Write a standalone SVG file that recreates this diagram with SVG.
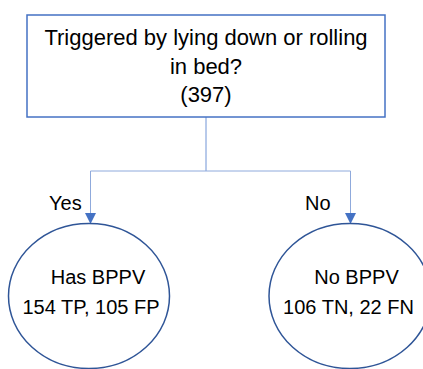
<svg xmlns="http://www.w3.org/2000/svg" width="423" height="369" viewBox="0 0 423 369">
  <style>
    .t { font-family: "Liberation Sans", Arial, sans-serif; fill: #000; }
    .box { fill: #fff; stroke: #4472C4; stroke-width: 1.5; }
    .ell { fill: #fff; stroke: #2F5597; stroke-width: 1.5; }
    .con { fill: none; stroke: #8FAADC; stroke-width: 1; }
  </style>
  <defs>
    <marker id="arr" markerUnits="userSpaceOnUse" markerWidth="12" markerHeight="12" viewBox="0 0 12 12" refX="11" refY="6" orient="auto">
      <path d="M0,0.5 L11,6 L0,11.5 Z" fill="#4472C4"/>
    </marker>
  </defs>
  <rect width="423" height="369" fill="#fff"/>
  <g id="connectors">
    <path class="con" d="M206,117 V171" style="stroke:#7094D6"/>
    <path class="con" d="M206,171 H90.5 V224" marker-end="url(#arr)"/>
    <path class="con" d="M206,171 H350.5 V224" marker-end="url(#arr)"/>
    <text class="t" x="49" y="210" font-size="20">Yes</text>
    <text class="t" x="305" y="210" font-size="20">No</text>
  </g>
  <g id="question">
    <rect class="box" x="27" y="15" width="358" height="102"/>
    <text class="t" x="206" y="45" font-size="22" text-anchor="middle">Triggered by lying down or rolling</text>
    <text class="t" x="206" y="73.5" font-size="22" text-anchor="middle">in bed?</text>
    <text class="t" x="206" y="102" font-size="22" text-anchor="middle">(397)</text>
  </g>
  <g id="has-bppv">
    <ellipse class="ell" cx="89" cy="296" rx="80.5" ry="72.5"/>
    <text class="t" x="98" y="284" font-size="20" text-anchor="middle">Has BPPV</text>
    <text class="t" x="91" y="314" font-size="20" text-anchor="middle">154 TP, 105 FP</text>
  </g>
  <g id="no-bppv">
    <ellipse class="ell" cx="350" cy="296" rx="81" ry="72.5"/>
    <text class="t" x="356.5" y="284" font-size="20" text-anchor="middle">No BPPV</text>
    <text class="t" x="348.5" y="314" font-size="20" text-anchor="middle">106 TN, 22 FN</text>
  </g>
</svg>
